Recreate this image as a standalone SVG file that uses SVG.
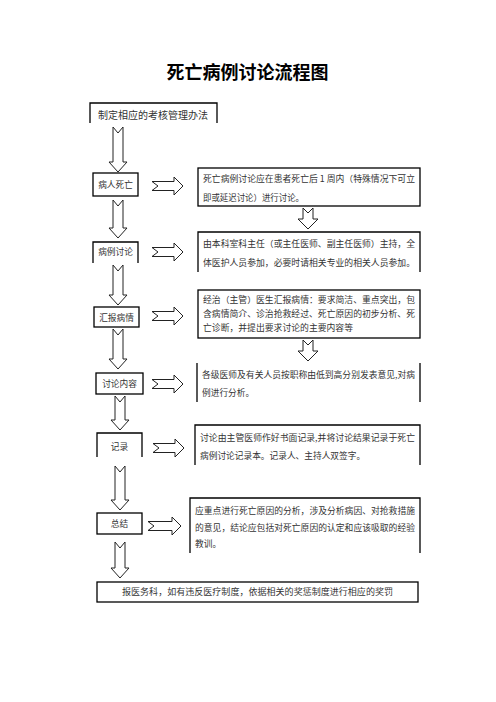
<svg xmlns="http://www.w3.org/2000/svg" width="496" height="702" viewBox="0 0 496 702">
<style>
  .bg{fill:#ffffff}
  .box{fill:none;stroke:#000;stroke-width:1.3}
  .arrow{fill:#fff;stroke:#222;stroke-width:1;stroke-linejoin:miter}
  .title{font-family:"Noto Sans CJK SC","Noto Sans",sans-serif;font-size:18px;font-weight:bold;fill:#000}
  .t{font-family:"Noto Sans CJK SC","Noto Sans",sans-serif;font-size:8.7px;fill:#333;dominant-baseline:central}
  .tl{font-family:"Noto Sans CJK SC","Noto Sans",sans-serif;font-size:10px;fill:#333;dominant-baseline:central}
  .c{text-anchor:middle}
</style>
<rect class="bg" x="0" y="0" width="496" height="702"/>
<text class="title c" x="247.5" y="79">死亡病例讨论流程图</text>

<g id="n-method">
  <path class="box" d="M90,123 V103 H217 V123"/>
  <text class="tl c" x="153" y="114">制定相应的考核管理办法</text>
</g>
<g id="n-death">
  <rect class="box" x="93" y="173" width="45" height="23"/>
  <text class="t c" x="115.5" y="184.5">病人死亡</text>
</g>
<g id="n-death-note">
  <rect class="box" x="198" y="168" width="222" height="38"/>
  <text class="t" x="203" y="178.5" textLength="212" lengthAdjust="spacingAndGlyphs">死亡病例讨论应在患者死亡后 1 周内（特殊情况下可立</text>
  <text class="t" x="203" y="197.5" textLength="101" lengthAdjust="spacingAndGlyphs">即或延迟讨论）进行讨论。</text>
</g>
<g id="n-discuss">
  <path class="box" d="M93,263 V242 H138 V263"/>
  <text class="t c" x="115.5" y="251">病例讨论</text>
</g>
<g id="n-discuss-note">
  <path class="box" d="M198,272 V232 H420 V272"/>
  <text class="t" x="203" y="243" textLength="212" lengthAdjust="spacingAndGlyphs">由本科室科主任（或主任医师、副主任医师）主持，全</text>
  <text class="t" x="203" y="262" textLength="212" lengthAdjust="spacingAndGlyphs">体医护人员参加，必要时请相关专业的相关人员参加。</text>
</g>
<g id="n-report">
  <rect class="box" x="94" y="307" width="45" height="20"/>
  <text class="t c" x="116.5" y="317">汇报病情</text>
</g>
<g id="n-report-note">
  <rect class="box" x="198" y="290" width="222" height="48"/>
  <text class="t" x="203" y="299.5" textLength="212" lengthAdjust="spacingAndGlyphs">经治（主管）医生汇报病情：要求简洁、重点突出，包</text>
  <text class="t" x="203" y="313.5" textLength="212" lengthAdjust="spacingAndGlyphs">含病情简介、诊治抢救经过、死亡原因的初步分析、死</text>
  <text class="t" x="203" y="327.5" textLength="150" lengthAdjust="spacingAndGlyphs">亡诊断，并提出要求讨论的主要内容等</text>
</g>
<g id="n-content">
  <rect class="box" x="96" y="373" width="47" height="21"/>
  <text class="t c" x="119.5" y="383">讨论内容</text>
</g>
<g id="n-content-note">
  <path class="box" d="M197,363 V402 M420,363 V402"/>
  <text class="t" x="202" y="374" textLength="213" lengthAdjust="spacingAndGlyphs">各级医师及有关人员按职称由低到高分别发表意见,对病</text>
  <text class="t" x="202" y="392">例进行分析。</text>
</g>
<g id="n-record">
  <path class="box" d="M97,457 V433 H142 V457"/>
  <text class="t c" x="119.5" y="446">记录</text>
</g>
<g id="n-record-note">
  <path class="box" d="M195,465 V425 H420 V465"/>
  <text class="t" x="200" y="437" textLength="215" lengthAdjust="spacingAndGlyphs">讨论由主管医师作好书面记录,并将讨论结果记录于死亡</text>
  <text class="t" x="200" y="455">病例讨论记录本。记录人、主持人双签字。</text>
</g>
<g id="n-summary">
  <rect class="box" x="97" y="513" width="45" height="21"/>
  <text class="t c" x="119.5" y="523">总结</text>
</g>
<g id="n-summary-note">
  <path class="box" d="M190,553 V498 H420 V553"/>
  <text class="t" x="195" y="510" textLength="220" lengthAdjust="spacingAndGlyphs">应重点进行死亡原因的分析，涉及分析病因、对抢救措施</text>
  <text class="t" x="195" y="527" textLength="220" lengthAdjust="spacingAndGlyphs">的意见，结论应包括对死亡原因的认定和应该吸取的经验</text>
  <text class="t" x="195" y="543">教训。</text>
</g>
<g id="n-report-office">
  <rect class="box" x="97" y="582" width="321" height="20"/>
  <text class="t c" x="257.5" y="591.5" textLength="271" lengthAdjust="spacingAndGlyphs">报医务科，如有违反医疗制度，依据相关的奖惩制度进行相应的奖罚</text>
</g>

<g id="connectors">
  <path class="arrow" d="M113,127 L118,133 L123,127 L123,162 L127,162 L118,172 L109,162 L113,162 Z"/>
  <path class="arrow" d="M113,200 L118,206 L123,200 L123,228 L127,228 L118,238 L109,228 L113,228 Z"/>
  <path class="arrow" d="M113,265 L118,271 L123,265 L123,295 L127,295 L118,305 L109,295 L113,295 Z"/>
  <path class="arrow" d="M113,329 L118,335 L123,329 L123,359 L127,359 L118,369 L109,359 L113,359 Z"/>
  <path class="arrow" d="M115,396 L120,402 L125,396 L125,420 L129,420 L120,430 L111,420 L115,420 Z"/>
  <path class="arrow" d="M115,466 L120,472 L125,466 L125,500 L129,500 L120,510 L111,500 L115,500 Z"/>
  <path class="arrow" d="M115,542 L120,548 L125,542 L125,568 L129,568 L120,578 L111,568 L115,568 Z"/>
  <path class="arrow" d="M303,208 L308,213 L313,208 L313,219 L318,219 L308,229 L298,219 L303,219 Z"/>
  <path class="arrow" d="M303,340 L308,345 L313,340 L313,351 L318,351 L308,361 L298,351 L303,351 Z"/>
  <path class="arrow" d="M152,181.5 L174,181.5 L174,177 L183,186 L174,195 L174,190.5 L152,190.5 L158,186 Z"/>
  <path class="arrow" d="M152,247.5 L174,247.5 L174,243 L183,252 L174,261 L174,256.5 L152,256.5 L158,252 Z"/>
  <path class="arrow" d="M152,311.5 L174,311.5 L174,307 L183,316 L174,325 L174,320.5 L152,320.5 L158,316 Z"/>
  <path class="arrow" d="M152,379.5 L174,379.5 L174,375 L183,384 L174,393 L174,388.5 L152,388.5 L158,384 Z"/>
  <path class="arrow" d="M153,443.5 L175,443.5 L175,439 L184,448 L175,457 L175,452.5 L153,452.5 L159,448 Z"/>
  <path class="arrow" d="M148,521.5 L172,521.5 L172,517 L181,526 L172,535 L172,530.5 L148,530.5 L154,526 Z"/>
</g>
</svg>
